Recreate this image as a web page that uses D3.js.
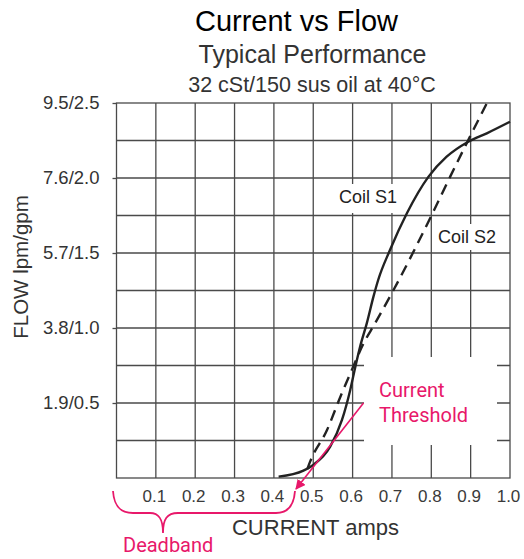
<!DOCTYPE html>
<html>
<head>
<meta charset="utf-8">
<script src="https://cdn.jsdelivr.net/npm/d3@7"></script>
<style>
  html, body { margin: 0; padding: 0; background: #fff; }
  svg { display: block; }
</style>
</head>
<body>
<svg id="chart" width="524" height="559"></svg>
<script>
// ---- data ----
const currentTicks = [0.1, 0.2, 0.3, 0.4, 0.5, 0.6, 0.7, 0.8, 0.9, 1.0];
const currentTickLabels = ["0.1", "0.2", "0.3", "0.4", "0.5", "0.6", "0.7", "0.8", "0.9", "1.0"];
const flowGrid = [0.25, 0.5, 0.75, 1.0, 1.25, 1.5, 1.75, 2.0, 2.25];
const flowTickValues = [0.5, 1.0, 1.5, 2.0, 2.5];
const flowTickLabels = ["1.9/0.5", "3.8/1.0", "5.7/1.5", "7.6/2.0", "9.5/2.5"];

const coilS1Current = [0.412, 0.475, 0.500, 0.543, 0.573, 0.594, 0.607, 0.619, 0.636, 0.653, 0.665, 0.695, 0.738, 0.793, 0.839, 0.894, 0.941, 1.000];
const coilS1Flow    = [0.009, 0.049, 0.087, 0.209, 0.387, 0.587, 0.742, 0.875, 1.031, 1.209, 1.320, 1.520, 1.765, 2.009, 2.142, 2.242, 2.298, 2.375];

const coilS2Current = [0.485, 0.492, 0.535, 0.569, 0.598, 0.628, 0.657, 0.704, 0.801, 0.848, 0.894, 0.941];
const coilS2Flow    = [0.060, 0.109, 0.320, 0.542, 0.720, 0.898, 1.031, 1.253, 1.753, 2.009, 2.253, 2.498];

const titleText = "Current vs Flow";
const subtitle1 = "Typical Performance";
const subtitle2 = "32 cSt/150 sus oil at 40°C";
const xTitle = "CURRENT amps";
const yTitle = "FLOW lpm/gpm";

// ---- layout ----
const svg = d3.select("#chart");
const pLeft = 116.5, pRight = 510, pTop = 103, pBottom = 478;
const x = d3.scaleLinear().domain([0, 1]).range([pLeft, pRight]);
const y = d3.scaleLinear().domain([0, 2.5]).range([pBottom, pTop]);
const pink = "#e8186a";
const gridColor = "#4a4a4a";
const sans = "'Liberation Sans', Arial, Helvetica, sans-serif";

// titles
svg.append("text").attr("x", 296.5).attr("y", 31).attr("text-anchor", "middle")
  .attr("font-family", sans).attr("font-size", 29).attr("fill", "#000").text(titleText);
svg.append("text").attr("x", 312.5).attr("y", 63).attr("text-anchor", "middle")
  .attr("font-family", sans).attr("font-size", 25).attr("fill", "#333").text(subtitle1);
svg.append("text").attr("x", 312).attr("y", 92).attr("text-anchor", "middle")
  .attr("font-family", sans).attr("font-size", 21.5).attr("fill", "#333").text(subtitle2);

// grid
const grid = svg.append("g").attr("stroke", gridColor).attr("stroke-width", 1.3);
grid.selectAll("line.v").data(currentTicks.slice(0, -1)).join("line").attr("class", "v")
  .attr("x1", d => x(d)).attr("x2", d => x(d)).attr("y1", pTop).attr("y2", pBottom);
grid.selectAll("line.h").data(flowGrid).join("line").attr("class", "h")
  .attr("x1", pLeft).attr("x2", pRight).attr("y1", d => y(d)).attr("y2", d => y(d));

// white label backgrounds that interrupt the grid
svg.append("rect").attr("x", 335).attr("y", 184).attr("width", 66).attr("height", 29).attr("fill", "#fff");
svg.append("rect").attr("x", 433).attr("y", 224).attr("width", 70).attr("height", 26).attr("fill", "#fff");
svg.append("rect").attr("x", 364).attr("y", 357).attr("width", 133).attr("height", 88).attr("fill", "#fff");

// border
svg.append("rect").attr("x", pLeft).attr("y", pTop).attr("width", pRight - pLeft).attr("height", pBottom - pTop)
  .attr("fill", "none").attr("stroke", gridColor).attr("stroke-width", 1.3);

// y axis
const yAxis = d3.axisLeft(y).tickValues(flowTickValues)
  .tickFormat((d, i) => flowTickLabels[i]).tickSize(4).tickPadding(12);
const gy = svg.append("g").attr("transform", `translate(${pLeft},0)`).call(yAxis);
gy.select(".domain").remove();
gy.selectAll(".tick line").attr("stroke", gridColor).attr("stroke-width", 1.3);
gy.selectAll(".tick text").attr("font-family", sans).attr("font-size", 18.5).attr("fill", "#333")
  .attr("dx", -1);

// x axis
const xAxis = d3.axisBottom(x).tickValues(currentTicks)
  .tickFormat((d, i) => currentTickLabels[i]).tickSize(0).tickPadding(12);
const gx = svg.append("g").attr("transform", `translate(0,${pBottom})`).call(xAxis);
gx.select(".domain").remove();
gx.selectAll(".tick text").attr("font-family", sans).attr("font-size", 17).attr("fill", "#3a3a3a")
  .attr("dx", -2);

// axis titles
svg.append("text").attr("x", 315.5).attr("y", 535).attr("text-anchor", "middle")
  .attr("font-family", sans).attr("font-size", 22).attr("fill", "#333").text(xTitle);
svg.append("text").attr("transform", "translate(28,267) rotate(-90)").attr("text-anchor", "middle")
  .attr("font-family", sans).attr("font-size", 20.5).attr("fill", "#333").text(yTitle);

// curves
const line = d3.line().x(d => x(d[0])).y(d => y(d[1])).curve(d3.curveMonotoneX);
const s1 = coilS1Current.map((c, i) => [c, coilS1Flow[i]]);
const s2 = coilS2Current.map((c, i) => [c, coilS2Flow[i]]);
svg.append("path").attr("d", line(s2)).attr("fill", "none").attr("stroke", "#222")
  .attr("stroke-width", 2.4).attr("stroke-dasharray", "11,7");
svg.append("path").attr("d", line(s1)).attr("fill", "none").attr("stroke", "#222")
  .attr("stroke-width", 2.4);

// curve labels
svg.append("text").attr("x", 339).attr("y", 203).attr("font-family", sans).attr("font-size", 18)
  .attr("fill", "#222").text("Coil S1");
svg.append("text").attr("x", 438).attr("y", 243).attr("font-family", sans).attr("font-size", 18)
  .attr("fill", "#222").text("Coil S2");

// annotations
const roboto = "Roboto, 'Noto Sans', sans-serif";
svg.append("text").attr("x", 379).attr("y", 397).attr("font-family", roboto).attr("font-size", 20)
  .attr("fill", pink).text("Current");
svg.append("text").attr("x", 379).attr("y", 422).attr("font-family", roboto).attr("font-size", 20)
  .attr("fill", pink).text("Threshold");

const defs = svg.append("defs");
defs.append("marker").attr("id", "arrow").attr("viewBox", "0 0 10 10").attr("refX", 9).attr("refY", 5)
  .attr("markerWidth", 10).attr("markerHeight", 10).attr("markerUnits", "userSpaceOnUse").attr("orient", "auto")
  .append("path").attr("d", "M0,0 L10,5 L0,10 Z").attr("fill", pink);
svg.append("line").attr("x1", 363.5).attr("y1", 403).attr("x2", 296).attr("y2", 489)
  .attr("stroke", pink).attr("stroke-width", 1.6).attr("marker-end", "url(#arrow)");

svg.append("path")
  .attr("d", "M113,491 C114,506 120,513 133,513 L150,513 C159,513 163,519 163,533 C163,519 167,513 178,513 L276,513 C288,513 294,505 295,491")
  .attr("fill", "none").attr("stroke", pink).attr("stroke-width", 1.8);
svg.append("text").attr("x", 123).attr("y", 552).attr("font-family", roboto).attr("font-size", 20)
  .attr("fill", pink).text("Deadband");
</script>
</body>
</html>
